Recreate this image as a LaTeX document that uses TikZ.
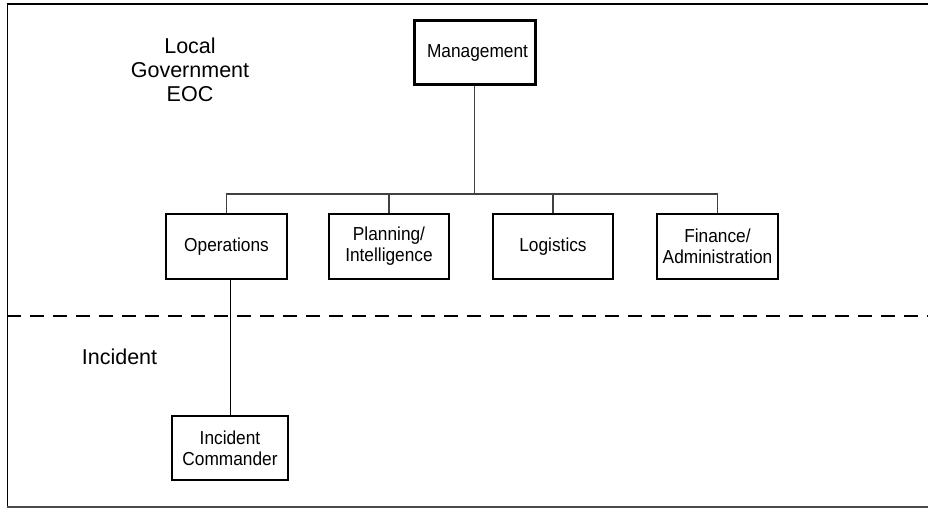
\documentclass[tikz,border=0pt]{standalone}
\usepackage{fontspec}
\setmainfont{Liberation Sans}
\newfontfamily\boxfont[FakeStretch=0.92]{Liberation Sans}
\tikzset{
  orgbox/.style={draw, line width=2pt, inner sep=0pt, minimum width=120pt,
    minimum height=65pt, align=center, font=\boxfont\fontsize{18.8}{21}\selectfont},
  link/.style={draw=black!75, line width=1.4pt},
  region/.style={font=\fontsize{21.5}{24}\selectfont, align=center}
}
\begin{document}
\begin{tikzpicture}[x=1pt, y=-1pt]
  \useasboundingbox (0,0) rectangle (928,508);

  % Frame
  \draw[line width=2pt] (930,4) -- (7,4);
  \draw[line width=1pt] (7,4) -- (7,507);
  \draw[line width=2pt, black!70] (7,507) -- (930,507);

  % Region labels
  \node[region] (eoc) at (190,70) {Local\\Government\\EOC};
  \node[region, anchor=base] (incident) at (119.5,364) {Incident};

  % Boxes
  \node[orgbox, line width=3pt, minimum width=121pt, minimum height=64pt] (mgmt) at (474.5,53) {\hspace*{6pt}Management};
  \node[orgbox, minimum width=121pt] (ops) at (226.5,246.5) {Operations};
  \node[orgbox] (plan) at (389,246.5) {Planning/\\Intelligence};
  \node[orgbox] (logi) at (553,246.5) {Logistics};
  \node[orgbox, minimum width=121pt] (fin) at (717.5,246.5) {Finance/\\Administration};
  \node[orgbox, minimum width=116pt, minimum height=64pt] (ic) at (230,448) {Incident\\Commander};

  % Connectors
  \coordinate (bus) at (474.5,194);
  \draw[link] (mgmt.south) -- (bus);
  \draw[link] (ops.north) -- (ops.north |- bus) -- (fin.north |- bus) -- (fin.north);
  \draw[link] (plan.north) -- (plan.north |- bus);
  \draw[link] (logi.north) -- (logi.north |- bus);
  \draw[link, black, line width=1pt] (ic.north) -- (ic.north |- ops.south);

  % Boundary
  \coordinate (cutL) at (7,316);
  \coordinate (cutR) at (928,316);
  \draw[line width=1.3pt, dash pattern=on 14pt off 9pt] (cutL) -- (cutR);
\end{tikzpicture}
\end{document}
